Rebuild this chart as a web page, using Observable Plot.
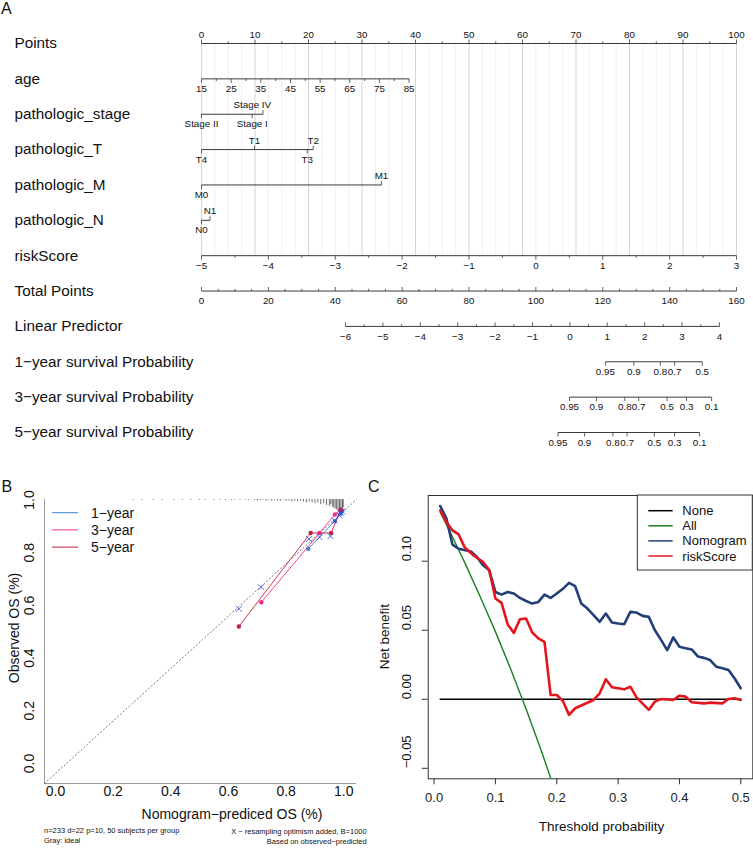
<!DOCTYPE html>
<html><head><meta charset="utf-8">
<script src="https://cdn.jsdelivr.net/npm/d3@7"></script>
<script src="https://cdn.jsdelivr.net/npm/@observablehq/plot@0.6"></script>
<style>
body{margin:0;background:#fff;font-family:"Liberation Sans",Arial,Helvetica,sans-serif;}
#wrap{position:relative;width:753px;height:848px;overflow:hidden;background:#fff;}
.panel{position:absolute;}
.tag{position:absolute;font-size:16px;line-height:16px;color:#111;}
</style></head><body><div id="wrap"></div>
<script>
// ---------------- Panel A: nomogram ----------------
const rowNames = ["Points","age","pathologic_stage","pathologic_T","pathologic_M","pathologic_N","riskScore",
  "Total Points","Linear Predictor","1−year survival Probability","3−year survival Probability","5−year survival Probability"];
const pointsLabels = [0,10,20,30,40,50,60,70,80,90,100];
const ageLabels = [15,25,35,45,55,65,75,85];
const ageRange = [15,85];
const agePointsRange = [0,38.8];
const stageLevels = ["Stage II","Stage I","Stage IV"];
const stagePoints = [0,9.48,11.5];
const stageLabelPoints = [0,9.48,9.5];
const stageSide = ["below","below","above"];
const tLevels = ["T4","T1","T3","T2"];
const tPoints = [0,9.9,19.76,20.88];
const tSide = ["below","above","below","above"];
const mLevels = ["M0","M1"];
const mPoints = [0,33.64];
const mSide = ["below","above"];
const nLevels = ["N0","N1"];
const nPoints = [0,1.6];
const nSide = ["below","above"];
const riskLabels = [-5,-4,-3,-2,-1,0,1,2,3];
const riskRange = [-5,3];
const totalLabels = [0,20,40,60,80,100,120,140,160];
const totalMax = 160;
const lpLabels = [-6,-5,-4,-3,-2,-1,0,1,2,3,4];
const lpRange = [-6,4];
const lpTotalRange = [43.07,154.9];
const surv1Labels = ["0.95","0.9","0.8","0.7","0.5"];
const surv1LP = [0.95,1.71,2.42,2.80,3.54];
const surv3Labels = ["0.95","0.9","0.8","0.7","0.5","0.3","0.1"];
const surv3LP = [-0.01,0.71,1.47,1.84,2.60,3.12,3.79];
const surv5Labels = ["0.95","0.9","0.8","0.7","0.5","0.3","0.1"];
const surv5LP = [-0.32,0.39,1.15,1.53,2.26,2.80,3.47];

// ---------------- Panel B: calibration ----------------
const calYears = ["1−year","3−year","5−year"];
const calColors = ["#3D85CC","#EE2F8C","#C41E3A"];
const cal1Pred = [0.877,0.969,0.989,0.995];
const cal1Obs  = [0.852,0.957,0.986,0.996];
const cal3Pred = [0.714,0.916,0.969,0.989];
const cal3Obs  = [0.649,0.912,0.982,1.000];
const cal5Pred = [0.636,0.885,0.956,0.989];
const cal5Obs  = [0.557,0.912,0.912,1.000];
const corrPred = [0.636,0.713,0.879,0.916,0.954,0.969,0.985,0.989,0.994];
const corrObs  = [0.624,0.706,0.889,0.896,0.900,0.959,0.978,0.987,0.994];
const rugPred = [0.27,0.30,0.34,0.37,0.41,0.44,0.47,0.50,0.52,0.55,0.57,0.59,0.61,0.62,0.64,0.66,0.67,0.69,0.70,0.71,0.72,0.73,0.74,0.75,0.76,0.77,0.78,0.79,0.80,0.81,0.82,0.83,0.84,0.85,0.86,0.87,0.88,0.89,0.90,0.91,0.92,0.93,0.94,0.95,0.955,0.96,0.965,0.97,0.975,0.98,0.985,0.99,0.995,0.998];
const rugCount = [1,1,1,1,1,1,1,1,1,1,1,1,1,1,1,1,1,1,2,1,1,2,1,2,1,2,2,1,2,2,3,2,3,2,3,4,3,4,5,4,6,5,7,8,6,9,10,11,12,14,15,16,13,10];
const calTicks = [0,0.2,0.4,0.6,0.8,1.0];

// ---------------- Panel C: decision curve ----------------
const dcNames = ["None","All","Nomogram","riskScore"];
const dcColors = ["#000000","#17801A","#233F78","#E3161D"];
const noneThr = [0.01,0.5];
const noneNB = [0,0];
const allThr = [0.01,0.03,0.05,0.075,0.1,0.125,0.15,0.175,0.2];
const allNB = [0.1355,0.1175,0.099,0.0745,0.049,0.0218,-0.0071,-0.0375,-0.07];
const nomoThr = [0.01,0.02,0.03,0.04,0.06,0.07,0.08,0.09,0.10,0.11,0.12,0.13,0.14,0.15,0.16,0.17,0.18,0.19,0.20,0.21,0.22,0.23,0.24,0.25,0.26,0.27,0.28,0.29,0.30,0.31,0.32,0.33,0.34,0.35,0.36,0.37,0.38,0.39,0.40,0.41,0.42,0.43,0.44,0.45,0.46,0.47,0.48,0.49,0.50];
const nomoNB = [0.140,0.131,0.112,0.109,0.107,0.103,0.097,0.0934,0.0777,0.0758,0.0777,0.0766,0.0734,0.0712,0.0693,0.0705,0.0758,0.0734,0.0766,0.080,0.0843,0.0819,0.0693,0.0657,0.061,0.0561,0.0621,0.0556,0.0549,0.0544,0.0633,0.0628,0.0604,0.0597,0.050,0.043,0.0356,0.0448,0.038,0.037,0.0361,0.031,0.030,0.0284,0.0236,0.0225,0.0212,0.015,0.008];
const riskThr = [0.01,0.02,0.03,0.04,0.05,0.065,0.08,0.09,0.10,0.11,0.12,0.13,0.14,0.15,0.16,0.17,0.18,0.19,0.20,0.21,0.22,0.23,0.26,0.27,0.28,0.29,0.31,0.32,0.33,0.35,0.36,0.37,0.39,0.40,0.41,0.42,0.44,0.45,0.47,0.48,0.49,0.50];
const riskNB = [0.1368,0.1283,0.1223,0.1194,0.110,0.104,0.0994,0.0934,0.073,0.0698,0.0542,0.0481,0.058,0.0585,0.0484,0.0441,0.0416,0.0031,0.0031,-0.0012,-0.0113,-0.0065,-0.0005,0.0043,0.0145,0.0087,0.0072,0.0091,0.0014,-0.0077,-0.0017,0.0002,-0.0005,0.0026,0.0019,-0.0022,-0.003,-0.0024,-0.003,0.0002,0.0007,-0.0005];
const dcTicksX = [0,0.1,0.2,0.3,0.4,0.5];
const dcTicksY = [-0.05,0,0.05,0.10];

const font = "'Liberation Sans', Arial, Helvetica, sans-serif";
const wrap = document.getElementById("wrap");

// ---- build nomogram geometry (in Points units) ----
const agePos = v => agePointsRange[0] + (v-ageRange[0])/(ageRange[1]-ageRange[0])*(agePointsRange[1]-agePointsRange[0]);
const riskPos = v => (v-riskRange[0])/(riskRange[1]-riskRange[0])*100;
const totPos = v => v/totalMax*100;
const lpPos = v => totPos(lpTotalRange[0] + (v-lpRange[0])/(lpRange[1]-lpRange[0])*(lpTotalRange[1]-lpTotalRange[0]));
const ROW = 35.36, MAJ = 4/ROW, MIN = 2.2/ROW;
const seg = [], tk = [], labA = [], labB = [];
function numAxis(row, pos, values, texts, minors, side, dir){
  const xs = values.map(pos).concat(minors.map(pos));
  seg.push({row, a: d3.min(xs), b: d3.max(xs)});
  values.forEach((v,i)=>{ tk.push({row, x: pos(v), d: dir*MAJ}); (side==="above"?labA:labB).push({row, x: pos(v), text: texts[i]}); });
  minors.forEach(v=>tk.push({row, x: pos(v), d: dir*MIN}));
}
function catAxis(row, levels, pts, labelPts, sides){
  seg.push({row, a: d3.min(pts), b: d3.max(pts)});
  levels.forEach((l,i)=>{ const up = sides[i]==="above"; tk.push({row, x: pts[i], d: (up?-1:1)*MAJ}); (up?labA:labB).push({row, x: labelPts[i], text: l}); });
}
const fmtM = v => String(v).replace("-","−");
numAxis(0, v=>v, pointsLabels, pointsLabels.map(String), d3.range(5,100,10), "above", -1);
numAxis(1, agePos, ageLabels, ageLabels.map(String), d3.range(20,85,10), "below", 1);
catAxis(2, stageLevels, stagePoints, stageLabelPoints, stageSide);
catAxis(3, tLevels, tPoints, tPoints, tSide);
catAxis(4, mLevels, mPoints, mPoints, mSide);
catAxis(5, nLevels, nPoints, nPoints, nSide);
numAxis(6, riskPos, riskLabels, riskLabels.map(fmtM), d3.range(-4.5,3,1), "below", 1);
numAxis(7, totPos, totalLabels, totalLabels.map(String), d3.range(10,160,20).concat(d3.range(5,160,10)), "below", -1);
numAxis(8, lpPos, lpLabels, lpLabels.map(fmtM), d3.range(-5.5,4,1), "below", -1);
numAxis(9, lpPos, surv1LP, surv1Labels, [], "below", 1);
numAxis(10, lpPos, surv3LP, surv3Labels, [], "below", 1);
numAxis(11, lpPos, surv5LP, surv5Labels, [], "below", 1);
const grid = d3.range(0,100.1,2.5);

const nomo = Plot.plot({
  width: 753, height: 450,
  marginTop: 43, marginBottom: 18, marginLeft: 201, marginRight: 17,
  x: {domain:[0,100], axis:null},
  y: {domain:[0,11], reverse:true, axis:null},
  style: {background:"transparent", fontFamily: font, overflow:"visible", color:"#111"},
  marks: [
    Plot.ruleX(grid, {x: d=>d, y1: 0, y2: 6, stroke: d => d%10===0 ? "#d0d0d0" : "#eeeeee", strokeWidth: 0.9}),
    Plot.link(seg, {x1:"a", x2:"b", y1:"row", y2:"row", stroke:"#3a3a3a", strokeWidth:1}),
    Plot.link(tk, {x1:"x", x2:"x", y1:"row", y2: d=>d.row+d.d, stroke:"#3a3a3a", strokeWidth:0.8}),
    Plot.text(labA, {x:"x", y:"row", text:"text", dy:-9, fontSize:9.8, fill:"#111"}),
    Plot.text(labB, {x:"x", y:"row", text:"text", dy:10, fontSize:9.8, fill:"#111"}),
    Plot.text(rowNames, {y:(d,i)=>i, text:d=>d, frameAnchor:"left", dx:-187, textAnchor:"start", fontSize:15.3, fill:"#111"})
  ]
});
nomo.classList.add("panel"); nomo.style.left="0px"; nomo.style.top="0px";
wrap.appendChild(nomo);

// ---- Panel B ----
const xDomB = [-0.038,1.044], yDomB = [-0.039,1.039];
const spike = 0.85/263.5;
const rugRows = rugPred.map((p,i)=>({p, n: rugCount[i]}));
const calSets = [[cal1Pred,cal1Obs],[cal3Pred,cal3Obs],[cal5Pred,cal5Obs]];
const corrRows = corrPred.map((p,i)=>({p, o: corrObs[i]}));
const calMarks = [];
calSets.forEach(([P,O],k)=>{
  const rows = P.map((p,i)=>({p, o:O[i]}));
  calMarks.push(Plot.line(rows, {x:"p", y:"o", stroke: calColors[k], strokeWidth:0.9}));
  calMarks.push(Plot.dot(rows, {x:"p", y:"o", fill: calColors[k], r:2.2}));
});
const calB = Plot.plot({
  width: 380, height: 388,
  marginLeft: 44, marginRight: 24, marginTop: 39, marginBottom: 65,
  x: {domain:xDomB, axis:null},
  y: {domain:yDomB, axis:null},
  style: {background:"transparent", fontFamily: font, overflow:"visible", color:"#111"},
  marks: [
    Plot.ruleY([yDomB[0]], {stroke:"#9a9a9a", strokeWidth:1}),
    Plot.ruleX([xDomB[0]], {stroke:"#9a9a9a", strokeWidth:1}),
    Plot.line(xDomB.map((v,i)=>({a:xDomB[i], b:yDomB[i]})), {x:"a", y:"b", stroke:"#7a7a7a", strokeWidth:1, strokeDasharray:"1.2,2.6"}),
    Plot.ruleX(rugRows, {x:"p", y1: yDomB[1], y2: d=>yDomB[1]-d.n*spike, stroke:"#111", strokeWidth:0.6}),
    ...calMarks,
    Plot.dot(corrRows, {x:"p", y:"o", symbol:"times", stroke:"#2F44E6", r:2.8, strokeWidth:0.8}),
    Plot.text(calTicks, {x:d=>d, frameAnchor:"bottom", dy:12, text:d=>d.toFixed(1), fontSize:14}),
    Plot.text(calTicks, {y:d=>d, frameAnchor:"left", dx:-14.5, rotate:-90, text:d=>d.toFixed(1), fontSize:14})
  ]
});
calB.classList.add("panel"); calB.style.left="0px"; calB.style.top="460px";
wrap.appendChild(calB);
{
  const g = d3.select(calB).append("g").attr("font-family", font).attr("fill","#111");
  calYears.forEach((y,i)=>{
    const yy = 52.7 + i*17.2;
    g.append("line").attr("x1",52).attr("x2",78).attr("y1",yy).attr("y2",yy).attr("stroke",calColors[i]).attr("stroke-width",1);
    g.append("text").attr("x",91).attr("y",yy).attr("dy","0.35em").attr("text-anchor","start").attr("font-size",14).text(y);
  });
  g.append("text").attr("x",232).attr("y",354).attr("dy","0.35em").attr("text-anchor","middle").attr("font-size",14).text("Nomogram−prediced OS (%)");
  g.append("text").attr("transform","translate(14,168) rotate(-90)").attr("dy","0.35em").attr("text-anchor","middle").attr("font-size",14).text("Observed OS (%)");
  g.append("text").attr("x",44).attr("y",370).attr("dy","0.35em").attr("text-anchor","start").attr("font-size",7.5).text("n=233 d=22 p=10, 50 subjects per group");
  g.append("text").attr("x",44).attr("y",380).attr("dy","0.35em").attr("text-anchor","start").attr("font-size",7.5).text("Gray: ideal");
  g.append("text").attr("x",366.7).attr("y",371.5).attr("dy","0.35em").attr("text-anchor","end").attr("font-size",7.5).text("X − resampling optimism added, B=1000");
  g.append("text").attr("x",366.7).attr("y",381.5).attr("dy","0.35em").attr("text-anchor","end").attr("font-size",7.5).text("Based on observed−predicted");
}

// ---- Panel C ----
const xDomC = [-0.0096,0.5196], yDomC = [-0.0576,0.1476];
const mk = (T,V)=>T.map((t,i)=>({t, v:V[i]}));
const dcSeries = [mk(noneThr,noneNB), mk(allThr,allNB), mk(nomoThr,nomoNB), mk(riskThr,riskNB)];
const dcWidths = [1.6,1.4,2.6,2.6];
const dc = Plot.plot({
  width: 383, height: 388,
  marginLeft: 57.7, marginRight: 0.7, marginTop: 35, marginBottom: 69.7,
  x: {domain:xDomC},
  y: {domain:yDomC},
  style: {background:"transparent", fontFamily: font, overflow:"visible", color:"#222"},
  marks: [
    Plot.frame({stroke:"#333"}),
    Plot.axisX({ticks:dcTicksX, tickSize:6, tickPadding:8, tickFormat:d3.format(".1f"), fontSize:13, label:null, stroke:"#333"}),
    Plot.axisY({ticks:dcTicksY, tickSize:6, tickFormat:()=>"", label:null, stroke:"#333"}),
    Plot.text(dcTicksY, {y:d=>d, frameAnchor:"left", dx:-21, rotate:-90, text:d3.format(".2f"), fontSize:13, fill:"#111"}),
    ...dcSeries.map((s,k)=>Plot.line(s, {x:"t", y:"v", stroke:dcColors[k], strokeWidth:dcWidths[k], clip:true}))
  ]
});
dc.classList.add("panel"); dc.style.left="370px"; dc.style.top="460px";
wrap.appendChild(dc);
{
  const g = d3.select(dc).append("g").attr("font-family", font).attr("fill","#111");
  g.append("rect").attr("x",267.3).attr("y",35).attr("width",115).attr("height",75).attr("fill","#fff").attr("stroke","#333");
  dcNames.forEach((n,i)=>{
    const yy = 50.7 + i*15.1;
    g.append("line").attr("x1",278.3).attr("x2",302.7).attr("y1",yy).attr("y2",yy).attr("stroke",dcColors[i]).attr("stroke-width",1.5);
    g.append("text").attr("x",312.3).attr("y",yy).attr("dy","0.35em").attr("text-anchor","start").attr("font-size",13).text(n);
  });
  g.append("text").attr("x",231.5).attr("y",366.7).attr("dy","0.35em").attr("text-anchor","middle").attr("font-size",13.5).text("Threshold probability");
  g.append("text").attr("transform","translate(14,176.7) rotate(-90)").attr("dy","0.35em").attr("text-anchor","middle").attr("font-size",13.5).text("Net benefit");
}

// panel tags
[["A",1,0.5],["B",1.5,478.5],["C",368,478.5]].forEach(([t,x,y])=>{
  const d = document.createElement("div"); d.className="tag"; d.textContent=t;
  d.style.left=x+"px"; d.style.top=y+"px"; wrap.appendChild(d);
});
</script></body></html>
